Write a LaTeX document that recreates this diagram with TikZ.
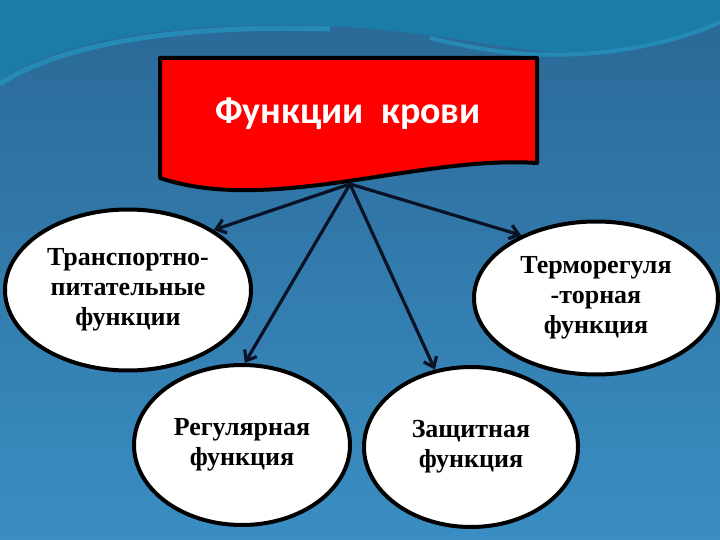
\documentclass[tikz,border=0pt]{standalone}
\usepackage{fontspec}
\setmainfont{Liberation Serif}
\newfontfamily\titlefont{Carlito}
\usetikzlibrary{shapes.geometric,arrows.meta}

\definecolor{bgtop}{HTML}{2A6896}
\definecolor{bgbottom}{HTML}{3A8EC3}
\definecolor{bgteal}{HTML}{1B7CA7}
\definecolor{bgstreak}{HTML}{2399C2}
\definecolor{arrowcol}{HTML}{0A1226}
\definecolor{boxred}{HTML}{FF0000}

\tikzset{
  func/.style={ellipse, draw=black, line width=4pt, fill=white, inner sep=0pt,
    align=center, font=\bfseries\fontsize{26}{30}\selectfont},
  link/.style={->, >={Straight Barb[length=9pt,width=14pt]}, draw=arrowcol, line width=3.2pt},
}

\begin{document}
\begin{tikzpicture}[x=1pt, y=-1pt]
    % background
    \useasboundingbox (0,0) rectangle (720,540);
    \shade[top color=bgtop, bottom color=bgbottom] (0,0) rectangle (720,540);
    \fill[bgteal] (0,0) -- (0,80) .. controls (60,40) and (180,20) .. (330,26)
        .. controls (450,32) and (520,55) .. (580,52)
        .. controls (650,48) and (700,30) .. (720,20) -- (720,0) -- cycle;
    \draw[bgstreak, line width=5pt, opacity=0.7] (0,84) .. controls (60,44) and (180,24) .. (330,29);
    \draw[bgstreak, line width=4pt, opacity=0.7] (430,38) .. controls (500,55) and (540,56) .. (580,54)
        .. controls (650,50) and (700,32) .. (720,22);

    % title box
    \draw[fill=boxred, line width=4pt, line join=round] (160,58) -- (537,58) -- (537,163)
        .. controls (420,155) and (270,215) .. (160,178) -- cycle;
    \node[font=\titlefont\bfseries\fontsize{38}{44}\selectfont, text=white] (title) at (348,114) {Функции~ крови};
    \coordinate (hub) at (350,184);

    % functions
    \node[func, minimum width=246pt, minimum height=161pt] (trans) at (128,290) {Транспортно-\\питательные\\функции};
    \node[func, minimum width=216pt, minimum height=160pt] (reg) at (242,445) {Регулярная\\функция};
    \node[func, minimum width=244pt, minimum height=153pt] (therm) at (596,298) {Терморегуля\\-торная\\функция};
    \node[func, minimum width=214pt, minimum height=160pt] (prot) at (471,447) {Защитная\\функция};

    \draw[link] (hub) -- (trans.35);
    \draw[link] (hub) -- (reg.88);
    \draw[link] (hub) -- (prot.115);
    \draw[link] (hub) -- (therm.140);
\end{tikzpicture}
\end{document}
